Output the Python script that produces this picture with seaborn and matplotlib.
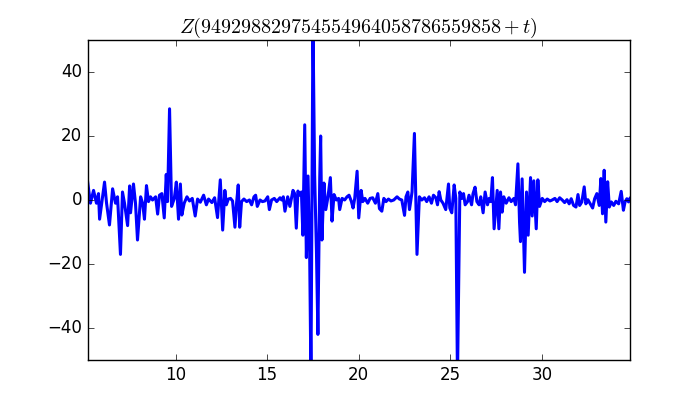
import matplotlib
matplotlib.use("Agg")
import matplotlib.pyplot as plt
import pandas as pd
import seaborn as sns

plt.style.use("classic")

# Values (t, Z)
t = [
    5.19, 5.35, 5.52, 5.68, 5.79, 5.85, 6.01, 6.12, 6.23, 6.39, 6.56, 6.72, 6.83,
    6.99, 7.10, 7.21, 7.38, 7.49, 7.54, 7.70, 7.81, 7.92, 8.09, 8.20, 8.30, 8.41,
    8.52, 8.63, 8.74, 8.91,
    9.02, 9.12, 9.25, 9.38, 9.49, 9.56, 9.67, 9.78, 9.93, 10.04, 10.16, 10.26,
    10.34, 10.47, 10.62, 10.76, 10.91, 11.07, 11.20, 11.35, 11.53, 11.68, 11.80,
    11.98, 12.13, 12.29, 12.44, 12.57,
    12.69, 12.77, 12.88, 13.00, 13.11, 13.24, 13.32, 13.42, 13.50, 13.60, 13.73,
    13.88, 14.03, 14.15, 14.28, 14.37, 14.46, 14.61, 14.74, 14.88, 15.03, 15.12,
    15.24, 15.39, 15.52, 15.70, 15.79, 15.88, 15.97, 16.12, 16.24,
    16.41, 16.50, 16.59, 16.68, 16.77, 16.87, 16.95, 17.05, 17.14, 17.23, 17.32,
    17.39, 17.50, 17.59, 17.69, 17.77, 17.87, 17.92, 17.99, 18.10, 18.20, 18.32,
    18.45, 18.54, 18.65, 18.78, 18.90, 18.96, 19.09, 19.23, 19.36, 19.47, 19.60,
    19.69, 19.78, 19.91, 20.00,
    20.13, 20.22, 20.34, 20.49, 20.62, 20.76, 20.91, 21.04, 21.13, 21.26, 21.37,
    21.49, 21.62, 21.76, 21.91, 22.09, 22.22, 22.35, 22.50, 22.58, 22.68, 22.77,
    22.91, 23.04, 23.18, 23.31, 23.44, 23.59, 23.71,
    23.84, 23.97, 24.08, 24.21, 24.30, 24.39, 24.48, 24.60, 24.75, 24.90, 24.97,
    25.08, 25.21, 25.30, 25.39, 25.52, 25.63, 25.72, 25.81, 25.94, 26.02, 26.16,
    26.24, 26.35, 26.45, 26.57, 26.66, 26.79, 26.90, 27.03, 27.12, 27.21, 27.30,
    27.39,
    27.56, 27.65, 27.74, 27.83, 27.92, 28.05, 28.20, 28.32, 28.47, 28.56, 28.69,
    28.78, 28.83, 28.92, 29.05, 29.16, 29.25, 29.38, 29.47, 29.56, 29.69, 29.78,
    29.87, 30.02, 30.15, 30.29, 30.44, 30.56, 30.71, 30.83, 30.97, 31.11,
    31.24, 31.37, 31.49, 31.60, 31.73, 31.86, 31.97, 32.06, 32.18, 32.31, 32.40,
    32.51, 32.64, 32.77, 32.88, 33.00, 33.13, 33.22, 33.31, 33.40, 33.49, 33.59,
    33.68, 33.79, 33.92, 34.04, 34.19, 34.33, 34.45, 34.54, 34.64, 34.73, 34.81,
]
z = [
    6, -1, 3, -1, 2, -6, 1, 5.6, -1, -7.8, 3.5, -1, 1,
    -17, 2.5, -1, -8, 4.4, -4, 5, -1, -12.5, 1, -1, -6, 4.5,
    -0.5, 1, 0, 1,
    -4.4, 1.5, 2, -5.6, 8, -0.5, 28.5, -2, 0.5, 5.6, -6, 5,
    -4.7, -1, 1, -0.3, 0.5, -5, 0.3, -0.7, 1.5, -1.5, 0.3,
    -0.8, 0.7, -5.5, 6.3, -9.4,
    3, -1.5, 0.3, 0.5, -0.3, -8.5, -1.5, 4.7, -8.5, -0.5, 0.3,
    -0.5, 0, -1.5, 1, 1.5, -2, 0, -0.5, -0.3, 1, -3,
    0, 0.5, -0.5, 0.7, 0, 1, -3.5, 1, -2,
    3, 2, -8.8, 2.8, 1.5, 2.5, -11, 23.5, -18, 7.5, -16.6,
    -56, 56, 8, -16, -42, 7, 20, -12.5, 5.3, -3, 1,
    7, -6.6, 1.7, 0, 0.5, -3, 0.5, 0, 1, 1.5, -0.5,
    -2.5, 0.5, 9, -5.6,
    3, -0.5, 0.5, -1, 0.5, 0.7, -1, 2, -2.7, -3.5, 0.5,
    -0.5, 0.3, -0.3, 0, 1, 0.3, 0, -4.8, 1, 2.5, -3,
    2.5, 20.8, -17, 1, 0, 0.7, -0.5,
    1, -1, 1.5, 0.7, -1.5, 2.6, 0, -1, -3, 5, -2.5,
    -4, 4.7, 0.5, -56, 2.5, 0.5, 2, -1.5, -0.5, 1.5, -1.5,
    2, 4, -0.5, -1.5, 1, -4, 2.5, -1.5, 0.5, -0.5, 7,
    -9,
    3, -9, 2.5, -3.8, 1, -1, 0.7, -0.5, 0.5, -1.5, 11.3,
    -7, -13, 6.6, -22.6, 2.5, -11, 7, -5, 6, -9, 6.3,
    -2, 0.5, -0.5, 0.3, -0.3, 0, 0.5, -0.5, 0.7, 0,
    -0.8, 0.1, -1.2, 0.4, -1.7, -2.2, 1.7, -1.7, -0.6, 4.1, -1.2,
    0.1, -1.2, -2.5, 0.4, 2, -1.7, 6.7, -4.3, 9.3, -6.9, 5.7,
    -2.2, -0.6, -1.7, -0.4, -1.2, 2.7, -3.2, -0.6, 0.4, -0.6, 0.5,
]

df = pd.DataFrame({"t": t, "Z": z})

fig, ax = plt.subplots(figsize=(7, 4), dpi=100)
sns.lineplot(data=df, x="t", y="Z", ax=ax, color="b", linewidth=2.2,
             estimator=None, sort=False)
ax.set_xlim(5.19, 34.81)
ax.set_ylim(-50, 50)
ax.set_xlabel("")
ax.set_ylabel("")
ax.set_title(r"$Z(949298829754554964058786559858+t)$")

fig.savefig("out.png", dpi=100, facecolor="white")
